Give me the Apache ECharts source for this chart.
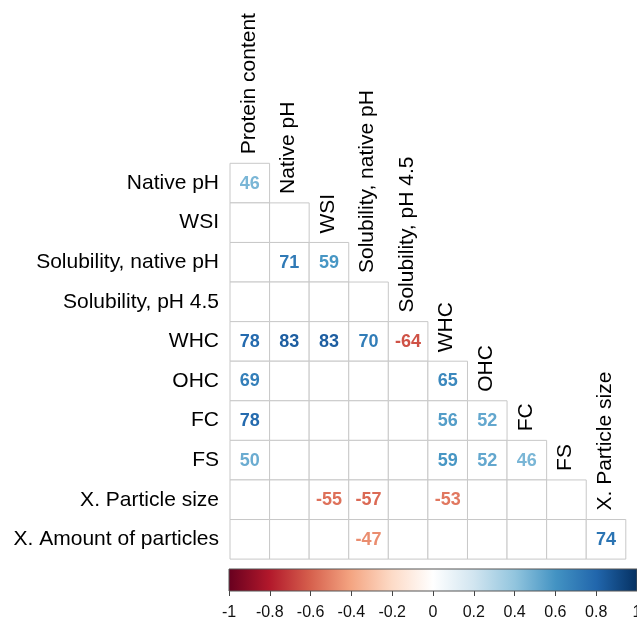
<!DOCTYPE html>
<html>
<head>
<meta charset="utf-8">
<script src="https://cdn.jsdelivr.net/npm/echarts@6/dist/echarts.min.js"></script>
<style>
  html, body { margin: 0; padding: 0; background: #ffffff; }
  #chart { width: 637px; height: 621px; }
</style>
</head>
<body>
<div id="chart"></div>
<script>
// Variables of the correlation matrix (rows below the diagonal, columns above it)
const rowNames = ['Native pH', 'WSI', 'Solubility, native pH', 'Solubility, pH 4.5', 'WHC',
  'OHC', 'FC', 'FS', 'X. Particle size', 'X. Amount of particles'];
const colNames = ['Protein content', 'Native pH', 'WSI', 'Solubility, native pH', 'Solubility, pH 4.5',
  'WHC', 'OHC', 'FC', 'FS', 'X. Particle size'];

// Significant correlations (x100); null = not significant (blank cell)
const rNativePH    = [46];
const rWSI         = [null, null];
const rSolNative   = [null, 71, 59];
const rSol45       = [null, null, null, null];
const rWHC         = [78, 83, 83, 70, -64];
const rOHC         = [69, null, null, null, null, 65];
const rFC          = [78, null, null, null, null, 56, 52];
const rFS          = [50, null, null, null, null, 59, 52, 46];
const rParticle    = [null, null, -55, -57, null, -53, null, null, null];
const rAmount      = [null, null, null, -47, null, null, null, null, null, 74];
const matrixRows = [rNativePH, rWSI, rSolNative, rSol45, rWHC, rOHC, rFC, rFS, rParticle, rAmount];

// Colour-bar ticks
const barTicks = [-1, -0.8, -0.6, -0.4, -0.2, 0, 0.2, 0.4, 0.6, 0.8, 1];

// Diverging red-blue palette, evenly spaced from -1 to 1
const palette = ['#67001F', '#B2182B', '#D6604D', '#F4A582', '#FDDBC7', '#FFFFFF',
  '#D1E5F0', '#92C5DE', '#4393C3', '#2166AC', '#053061'];

function hexToRgb(h) {
  return [parseInt(h.slice(1, 3), 16), parseInt(h.slice(3, 5), 16), parseInt(h.slice(5, 7), 16)];
}
function colorAt(v) {
  const t = Math.max(0, Math.min(1, (v + 1) / 2)) * (palette.length - 1);
  const i = Math.min(palette.length - 2, Math.floor(t));
  const f = t - i;
  const a = hexToRgb(palette[i]), b = hexToRgb(palette[i + 1]);
  const c = a.map((x, k) => Math.round(x + (b[k] - x) * f));
  return 'rgb(' + c.join(',') + ')';
}

const FONT = "'Liberation Sans', Arial, sans-serif";

// Lower-triangle cells
const cellData = [];
matrixRows.forEach((row, r) => {
  row.forEach((val, c) => {
    cellData.push([c, r, val]);
  });
});
const colLabelData = colNames.map((n, j) => [j, j, n]);

const chart = echarts.init(document.getElementById('chart'), null, { renderer: 'canvas' });

chart.setOption({
  backgroundColor: '#ffffff',
  animation: false,
  grid: [
    { left: 230, top: 163.3, width: 395.8, height: 395.8, outerBoundsMode: 'none', containLabel: false },
    { left: 229, top: 569, width: 408, height: 22, outerBoundsMode: 'none', containLabel: false }
  ],
  xAxis: [
    {
      gridIndex: 0, type: 'category', data: colNames,
      axisLine: { show: false }, axisTick: { show: false }, axisLabel: { show: false },
      splitLine: { show: false }
    },
    {
      gridIndex: 1, type: 'value', min: -1, max: 1, interval: 0.2,
      axisLine: { show: false },
      axisTick: { show: true, length: 5, lineStyle: { color: '#444', width: 1 } },
      axisLabel: {
        margin: 14, fontSize: 16, color: '#111', fontFamily: FONT,
        hideOverlap: false,
        formatter: v => String(Math.round(v * 10) / 10)
      },
      splitLine: { show: false }
    }
  ],
  yAxis: [
    {
      gridIndex: 0, type: 'category', data: rowNames, inverse: true,
      axisLine: { show: false }, axisTick: { show: false },
      axisLabel: {
        margin: 11, fontSize: 21, color: '#000', fontFamily: FONT,
        padding: [0, 0, 5, 0]
      },
      splitLine: { show: false }
    },
    { gridIndex: 1, type: 'value', min: 0, max: 1, show: false }
  ],
  series: [
    {
      // matrix cells with coloured coefficients
      type: 'custom',
      xAxisIndex: 0, yAxisIndex: 0,
      data: cellData,
      clip: false,
      renderItem: function (params, api) {
        const c = api.coord([api.value(0), api.value(1)]);
        const s = api.size([1, 1]);
        const raw = cellData[params.dataIndex][2];
        const children = [{
          type: 'rect',
          shape: { x: c[0] - s[0] / 2, y: c[1] - s[1] / 2, width: s[0], height: s[1] },
          style: { fill: '#ffffff', stroke: '#c8c8c8', lineWidth: 1 }
        }];
        if (raw !== null && raw !== undefined) {
          children.push({
            type: 'text',
            x: c[0], y: c[1] + 0.5,
            style: {
              text: String(raw), fill: colorAt(raw / 100),
              fontSize: 18, fontWeight: 'bold', fontFamily: FONT,
              textAlign: 'center', textVerticalAlign: 'middle'
            }
          });
        }
        return { type: 'group', children: children };
      }
    },
    {
      // column names, standing above the diagonal
      type: 'custom',
      xAxisIndex: 0, yAxisIndex: 0,
      data: colLabelData,
      clip: false,
      renderItem: function (params, api) {
        const c = api.coord([api.value(0), api.value(1)]);
        const s = api.size([1, 1]);
        return {
          type: 'text',
          x: c[0] - 1, y: c[1] - s[1] / 2 - 9,
          rotation: Math.PI / 2,
          style: {
            text: colLabelData[params.dataIndex][2], fill: '#000',
            fontSize: 21, fontFamily: FONT,
            textAlign: 'left', textVerticalAlign: 'middle'
          }
        };
      }
    },
    {
      // colour bar
      type: 'custom',
      xAxisIndex: 1, yAxisIndex: 1,
      data: [[barTicks[0], barTicks[barTicks.length - 1]]],
      clip: false,
      renderItem: function (params, api) {
        const p0 = api.coord([api.value(0), 1]);
        const p1 = api.coord([api.value(1), 0]);
        return {
          type: 'rect',
          shape: { x: p0[0], y: p0[1], width: p1[0] - p0[0], height: p1[1] - p0[1] },
          style: {
            fill: {
              type: 'linear', x: 0, y: 0, x2: 1, y2: 0,
              colorStops: palette.map((col, i) => ({ offset: i / (palette.length - 1), color: col }))
            },
            stroke: '#555', lineWidth: 1
          }
        };
      }
    }
  ]
});
</script>
</body>
</html>
